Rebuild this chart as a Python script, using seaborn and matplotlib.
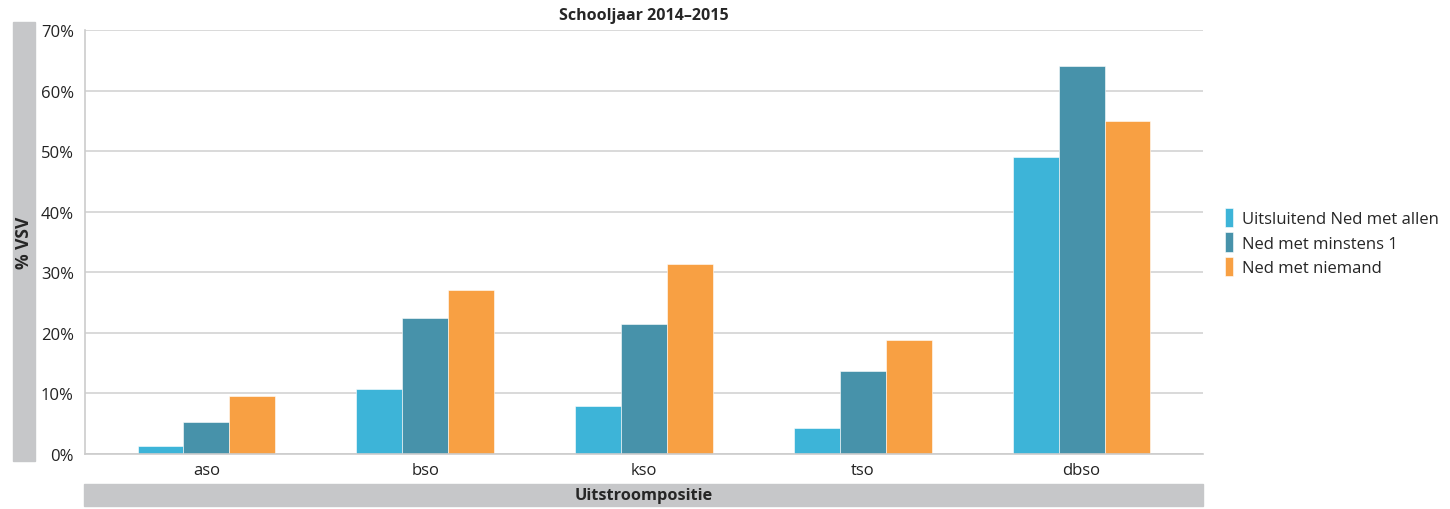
import seaborn as sns
import pandas as pd
import matplotlib.pyplot as plt
from matplotlib.patches import Rectangle

categories = ["aso", "bso", "kso", "tso", "dbso"]
series = ["Uitsluitend Ned met allen", "Ned met minstens 1", "Ned met niemand"]
vals_allen = [1.3, 10.8, 7.9, 4.3, 49.0]
vals_minstens = [5.3, 22.5, 21.4, 13.7, 64.0]
vals_niemand = [9.5, 27.0, 31.4, 18.9, 55.0]
colors = ["#3db4d8", "#4792aa", "#f8a043"]

rows = []
for s, vals in zip(series, [vals_allen, vals_minstens, vals_niemand]):
    for c, v in zip(categories, vals):
        rows.append({"cat": c, "serie": s, "pct": v})
df = pd.DataFrame(rows)

sns.set_style("white")
plt.rcParams["font.family"] = ["Open Sans", "DejaVu Sans"]

fig = plt.figure(figsize=(14.5, 5.1), dpi=100)
ax = fig.add_axes([85 / 1450, 55 / 510, 1118 / 1450, 424 / 510])

sns.barplot(data=df, x="cat", y="pct", hue="serie", order=categories,
            hue_order=series, palette=colors, width=0.63, gap=0,
            edgecolor="white", linewidth=0.4, saturation=1, ax=ax)

ax.set_ylim(0, 70)
ax.set_xlim(-0.555, 4.555)
ax.set_yticks(range(0, 71, 10))
ax.set_yticklabels([f"{t}%" for t in range(0, 71, 10)])
ax.yaxis.grid(True, color="#d3d3d3", linewidth=1.2)
ax.set_axisbelow(True)
for side in ["top", "right"]:
    ax.spines[side].set_visible(False)
for side in ["left", "bottom"]:
    ax.spines[side].set_color("#cccccc")
    ax.spines[side].set_linewidth(1.2)
ax.tick_params(axis="both", length=0, labelsize=12, colors="#222222")
ax.tick_params(axis="y", pad=8)
ax.tick_params(axis="x", pad=6)
ax.set_xlabel("")
ax.set_ylabel("")
ax.set_title("Schooljaar 2014–2015", fontsize=11.5, fontweight="bold", pad=8)

ax.legend(loc="center left", bbox_to_anchor=(1.006, 0.5), frameon=False,
          fontsize=12, handlelength=0.5, handleheight=1.4, handletextpad=0.55,
          labelspacing=0.3)

# grey label bars
fig.patches.append(Rectangle((13 / 1450, 48 / 510), 22 / 1450, 439 / 510,
                             transform=fig.transFigure, color="#c6c7c9", zorder=0))
fig.patches.append(Rectangle((84 / 1450, 3 / 510), 1119 / 1450, 22 / 510,
                             transform=fig.transFigure, color="#c6c7c9", zorder=0))
fig.text(24 / 1450, (48 + 439 / 2) / 510, "% VSV", rotation=90, ha="center",
         va="center", fontsize=12.5, fontweight="bold")
fig.text((84 + 1119 / 2) / 1450, 14 / 510, "Uitstroompositie", ha="center",
         va="center", fontsize=11.8, fontweight="bold")

fig.savefig("out.png", dpi=100)
